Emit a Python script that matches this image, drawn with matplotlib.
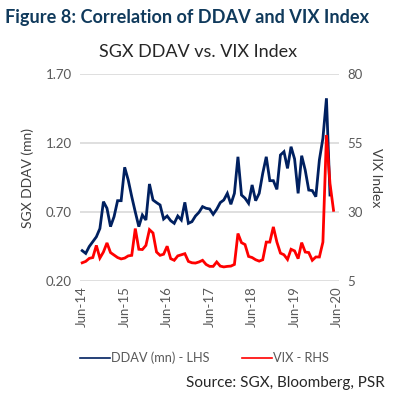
import numpy as np
import matplotlib
matplotlib.use('Agg')
import matplotlib.pyplot as plt
from matplotlib.lines import Line2D

plt.rcParams['font.family'] = ['Lato', 'DejaVu Sans']

# Monthly series, Jun-14 onwards
ddav = [0.42, 0.40, 0.45, 0.485, 0.52, 0.58, 0.775, 0.727, 0.594, 0.666,
        0.782, 0.782, 1.024, 0.932, 0.811, 0.70, 0.594, 0.678, 0.642, 0.903,
        0.787, 0.768, 0.751, 0.649, 0.671, 0.637, 0.618, 0.671, 0.642, 0.77,
        0.618, 0.63, 0.671, 0.698, 0.739, 0.727, 0.722, 0.683, 0.72, 0.768,
        0.787, 0.835, 0.756, 0.835, 1.10, 0.823, 0.80, 0.763, 0.896, 0.782,
        0.835, 0.98, 1.10, 0.927, 0.927, 0.864, 1.113, 1.137, 1.016, 1.173,
        1.084, 0.835, 1.108, 1.004, 0.859, 0.855, 0.811, 1.077, 1.234, 1.524,
        0.823]
vix = [11.6, 12.1, 13.2, 13.5, 17.9, 13.3, 15.5, 18.8, 15.3, 14.4,
       13.5, 13.0, 13.3, 14.1, 14.3, 24.0, 16.5, 16.4, 17.9, 23.6,
       22.4, 15.5, 14.3, 14.7, 17.6, 13.1, 12.5, 14.1, 14.5, 14.9,
       12.1, 11.6, 11.5, 11.9, 12.5, 11.0, 10.3, 10.3, 11.9, 10.4,
       10.1, 10.3, 10.4, 11.0, 22.2, 18.9, 18.2, 13.9, 13.5, 12.7,
       12.2, 12.7, 19.1, 19.1, 24.6, 19.1, 15.1, 14.5, 12.8, 16.5,
       15.9, 13.1, 18.9, 15.5, 15.3, 12.5, 13.7, 13.7, 19.1, 57.9,
       40.3, 30.6]
tick_labels = ['Jun-14', 'Jun-15', 'Jun-16', 'Jun-17', 'Jun-18', 'Jun-19', 'Jun-20']
left_ticks = [0.20, 0.70, 1.20, 1.70]
right_ticks = [5, 30, 55, 80]

navy = '#002060'
red = '#FF0000'
grey = '#595959'

fig = plt.figure(figsize=(3.97, 4.0), dpi=100)
ax = fig.add_axes([0.2015, 0.2975, 0.652, 0.5175])
ax2 = ax.twinx()

ax.plot(np.arange(len(ddav)), ddav, color=navy, lw=2, solid_joinstyle='miter')
ax2.plot(np.arange(len(vix)), vix, color=red, lw=2, solid_joinstyle='miter')

ax.set_xlim(-0.62, 72.5)
ax.set_ylim(0.20, 1.70)
ax2.set_ylim(5, 80)
ax.set_yticks(left_ticks)
ax.set_yticklabels(['%.2f' % t for t in left_ticks])
ax2.set_yticks(right_ticks)
ax.set_xticks(np.arange(0, 73, 12))
ax.set_xticklabels(tick_labels, rotation=90)

ax.grid(axis='y', color='#D9D9D9', lw=1.2)
ax.set_axisbelow(True)
for a in (ax, ax2):
    for s in a.spines.values():
        s.set_visible(False)
    a.tick_params(length=0, labelsize=9.5, colors=grey, pad=6)
ax.tick_params(axis='x', pad=4)

ax.set_ylabel('SGX DDAV (mn)', fontsize=10, color='#404040', labelpad=8)
ax2.set_ylabel('VIX Index', fontsize=10, color='#404040', rotation=270, labelpad=14)

fig.text(0.013, 0.955, 'Figure 8: Correlation of DDAV and VIX Index',
         fontsize=13.1, fontweight='bold', color='#103A5C', va='center')
fig.text(0.5, 0.87, 'SGX DDAV vs. VIX Index', fontsize=13, color='#262626',
         ha='center', va='center')

handles = [Line2D([], [], color=navy, lw=1.2), Line2D([], [], color=red, lw=1.2)]
fig.legend(handles, ['DDAV (mn) - LHS', 'VIX - RHS'], loc='center',
           bbox_to_anchor=(0.515, 0.105), ncol=2, frameon=False, fontsize=9.2,
           handlelength=2.35, handletextpad=0.1, columnspacing=2.5,
           labelcolor=grey)
fig.text(0.97, 0.042, 'Source: SGX, Bloomberg, PSR', fontsize=11,
         color='#262626', ha='right', va='center')

fig.savefig('out.png', dpi=100)
